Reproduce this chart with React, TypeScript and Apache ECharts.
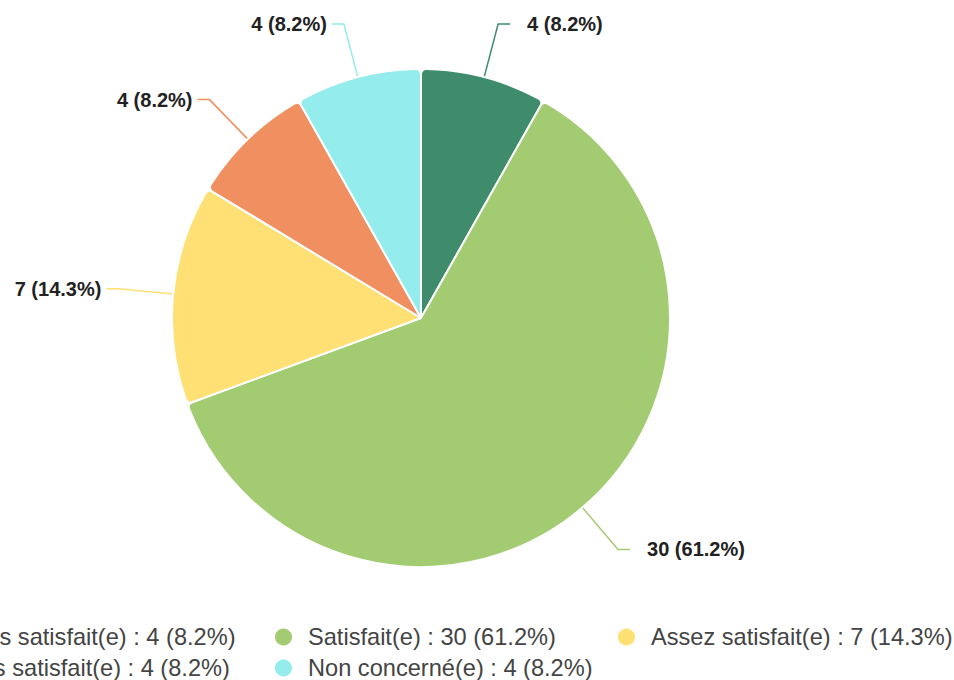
import React, { useEffect, useRef } from "react";
import * as echarts from "echarts";

const categories = [
  "Très satisfait(e)",
  "Satisfait(e)",
  "Assez satisfait(e)",
  "Pas satisfait(e)",
  "Non concerné(e)",
];
const values = [4, 30, 7, 4, 4];
const colors = ["#3f8c6d", "#a3cb72", "#fee074", "#f08f60", "#94ecec"];

// legend grid: [column, row] for each category
const legendCol = [0, 1, 2, 0, 1];
const legendRow = [0, 0, 0, 1, 1];

const total = values.reduce((a, b) => a + b, 0);
const pct = (v: number) => ((v / total) * 100).toFixed(1);

const OFFSET = 120;
const COL_LEFT = [-70, 273, 616];
const ROW_TOP = [625, 656];

export default function App() {
  const ref = useRef<HTMLDivElement>(null);
  useEffect(() => {
    if (!ref.current) return;
    const chart = echarts.init(ref.current, null, { renderer: "svg" });
    const legends = categories.map((name, i) => ({
      orient: "horizontal" as const,
      left: COL_LEFT[legendCol[i]] + OFFSET,
      top: ROW_TOP[legendRow[i]],
      padding: 0,
      icon: "circle",
      itemWidth: 19,
      itemHeight: 19,
      selectedMode: false,
      data: [name],
      formatter: (n: string) => {
        const k = categories.indexOf(n);
        return `${n} : ${values[k]} (${pct(values[k])}%)`;
      },
      textStyle: {
        fontFamily: "Liberation Sans, Arial, sans-serif",
        fontSize: 23.6,
        lineHeight: 20,
        color: "#444",
        padding: [0, 0, 0, 10],
      },
    }));
    chart.setOption({
      animation: false,
      legend: legends,
      series: [
        {
          type: "pie",
          center: [421 + OFFSET, 318],
          radius: 249,
          startAngle: 90,
          clockwise: true,
          itemStyle: { borderColor: "#fff", borderWidth: 2, borderRadius: 5 },
          label: {
            show: true,
            formatter: (p: any) => `${p.value} (${pct(p.value)}%)`,
            fontFamily: "Liberation Sans, Arial, sans-serif",
            fontSize: 20,
            fontWeight: "bold",
            color: "#222",
            distanceToLabelLine: 5,
          },
          labelLine: { show: true, length: 55, length2: 12, lineStyle: { width: 1.5 } },
          emphasis: { disabled: true },
          data: categories.map((name, i) => ({
            name,
            value: values[i],
            itemStyle: { color: colors[i] },
            label: i < 2 ? { padding: [0, 0, 0, 12] } : undefined,
          })),
        },
      ],
    });
    return () => chart.dispose();
  }, []);
  return (
    <div
      ref={ref}
      style={{ position: "absolute", left: -OFFSET, top: 0, width: 954 + OFFSET, height: 680 }}
    />
  );
}
